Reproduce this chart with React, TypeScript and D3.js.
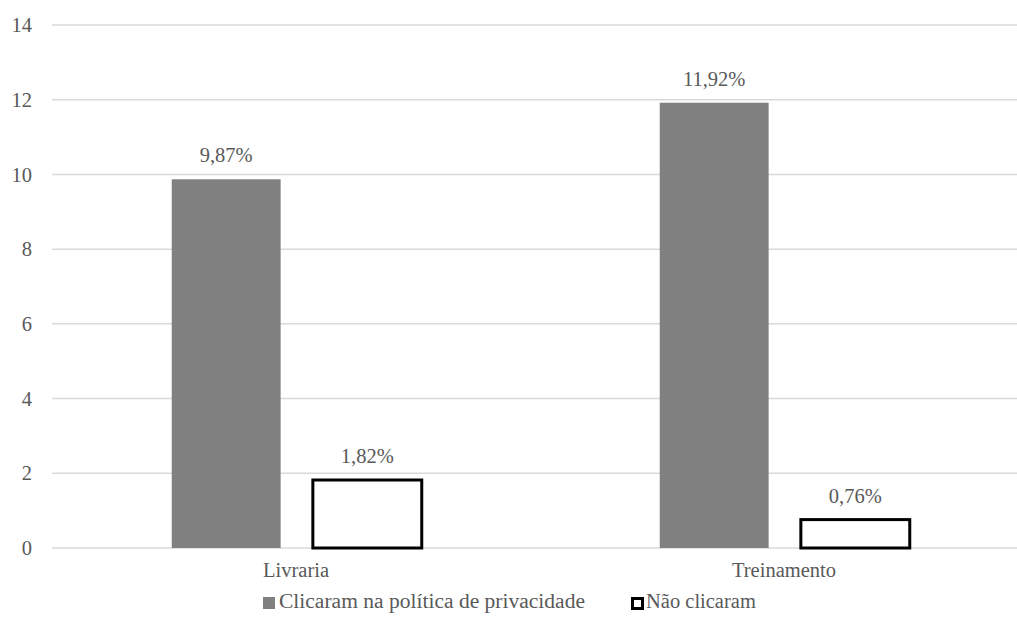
import React from 'react';
import * as d3 from "d3";

const categories = ["Livraria", "Treinamento"];
const seriesNames = ["Clicaram na política de privacidade", "Não clicaram"];
const clicaram = [9.87, 11.92];
const naoClicaram = [1.82, 0.76];
const valueLabels = [["9,87%", "1,82%"], ["11,92%", "0,76%"]];
const yTicks = [0, 2, 4, 6, 8, 10, 12, 14];

const font = '"Liberation Serif", Tinos, "Times New Roman", "DejaVu Serif", serif';
const textColor = "#595959";

const Label = (props: any) => (
    <text {...props} style={{ fontFamily: font, fontSize: "20.5px" }} fill={textColor} />
);

const App = () => {
    const width = 1017,
        height = 637;
    const left = 52, plotRight = 1028, top = 25, bottom = 548;

    const yScale = d3.scaleLinear().domain([0, 14]).range([bottom, top]);
    const x0 = d3.scaleBand().domain(categories).range([left, plotRight]);
    const groupW = 248.5;
    const offset = (x0.bandwidth() - groupW) / 2;
    const x1 = d3.scaleBand().domain(seriesNames).range([offset, offset + groupW]).paddingInner(0.22);

    const rows = categories.map((c, i) => ({ cat: c, values: [clicaram[i], naoClicaram[i]], labels: valueLabels[i] }));

    return (
        <svg width={width} height={height} style={{ position: "absolute", left: 0, top: 0, background: "#fff" }}>
            {yTicks.map(t => (
                <g key={t}>
                    <line x1={left} x2={width} y1={yScale(t)} y2={yScale(t)} stroke="#d9d9d9" strokeWidth={1.5} />
                    <Label x={32} y={yScale(t)} dy="0.35em" textAnchor="end">{t}</Label>
                </g>
            ))}
            {rows.map(r => (
                <g key={r.cat} transform={`translate(${x0(r.cat)},0)`}>
                    {r.values.map((v, j) => {
                        const x = x1(seriesNames[j])!;
                        const bw = x1.bandwidth();
                        return (
                            <g key={j}>
                                {j === 0 ? (
                                    <rect x={x} y={yScale(v)} width={bw} height={yScale(0) - yScale(v)} fill="#808080" />
                                ) : (
                                    <rect x={x + 1.5} y={yScale(v)} width={bw} height={yScale(0) - yScale(v)} fill="#fff" stroke="#000" strokeWidth={3} />
                                )}
                                <Label x={x + bw / 2 + (j === 0 ? 0 : 1.5)} y={yScale(v) - 17} textAnchor="middle">{r.labels[j]}</Label>
                            </g>
                        );
                    })}
                    <Label x={x0.bandwidth() / 2} y={577} textAnchor="middle">{r.cat}</Label>
                </g>
            ))}
            <g>
                <rect x={263} y={597} width={12} height={12} fill="#808080" />
                <Label x={279} y={608} textLength={306} lengthAdjust="spacingAndGlyphs">{seriesNames[0]}</Label>
                <rect x={632.5} y={598.5} width={10} height={10} fill="#fff" stroke="#000" strokeWidth={3} />
                <Label x={646} y={608}>{seriesNames[1]}</Label>
            </g>
        </svg>
    );
};

export default App;
